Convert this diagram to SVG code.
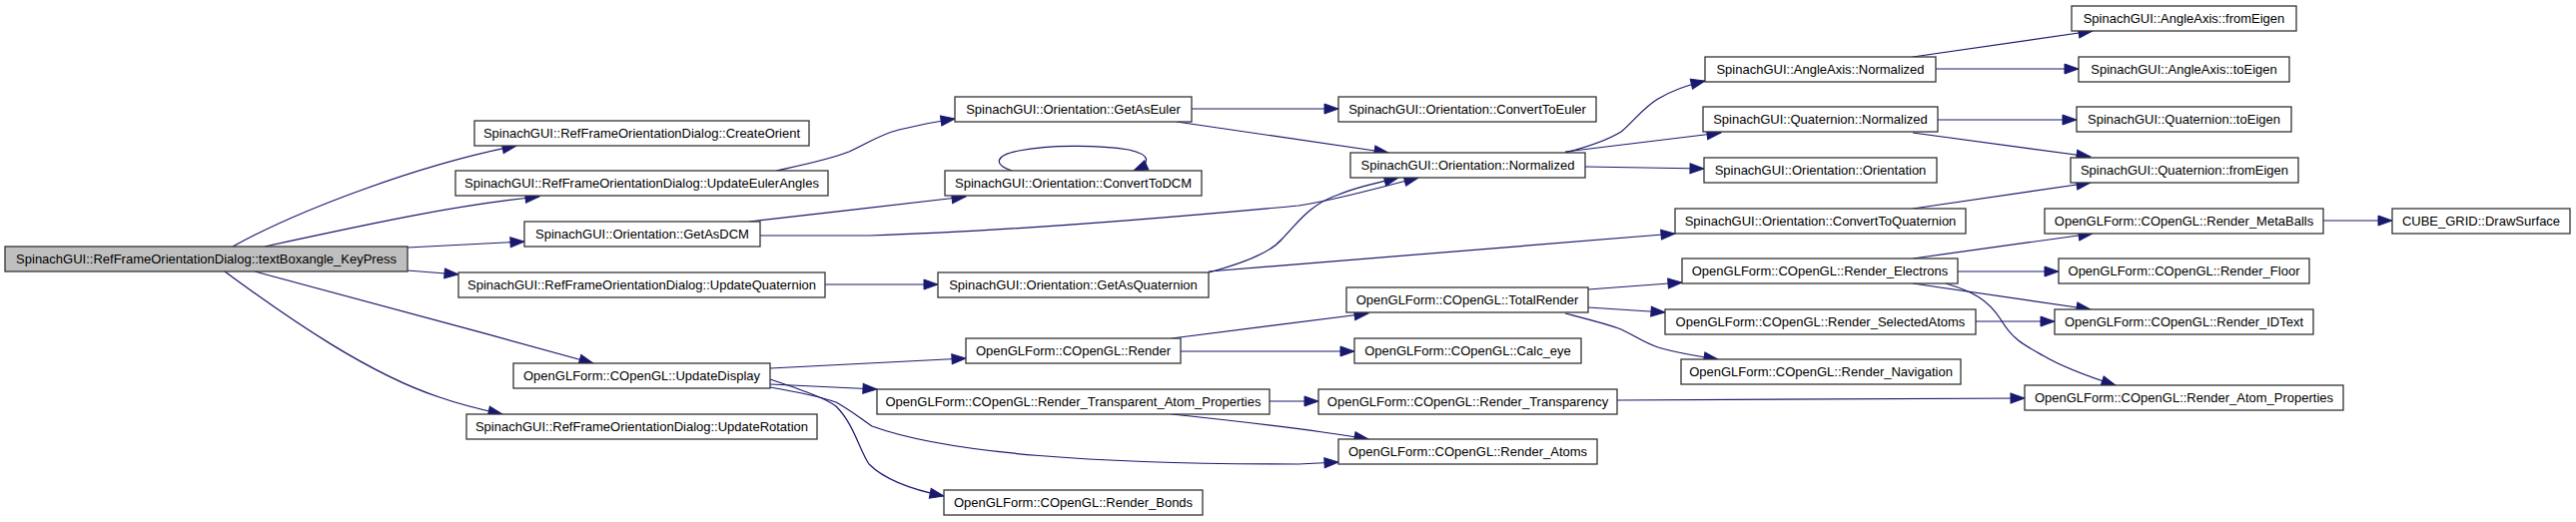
<svg xmlns="http://www.w3.org/2000/svg" width="2579" height="523" viewBox="0 0 2579 523">
<style>
.n rect{fill:#ffffff;stroke:#333333;stroke-width:1.3}
.n text{font-family:"Liberation Sans",Arial,sans-serif;font-size:13px;fill:#000000;text-anchor:middle}
#n0 rect{fill:#bfbfbf}
#edges path{fill:none;stroke:#191970;stroke-width:1.2;marker-end:url(#ah)}
</style>
<defs>
<marker id="ah" markerUnits="userSpaceOnUse" markerWidth="14" markerHeight="10" refX="14" refY="5" orient="auto" overflow="visible">
<path d="M0,0 L14,5 L0,10 z" fill="#191970" stroke="#191970" stroke-width="1"/>
</marker>
</defs>
<rect x="0" y="0" width="2579" height="523" fill="#ffffff"/>
<g id="edges">
<path d="M233,247 C300,210 420,165 517,146"/>
<path d="M265,247 C380,222 460,205 540,197"/>
<path d="M408,248 L525,242"/>
<path d="M408,271 L459,275"/>
<path d="M255,272 C350,298 480,332 594,364"/>
<path d="M225,272 C290,320 370,375 440,398 C460,405 480,410 503,415"/>
<path d="M777,171 C800,166 830,160 850,152 C870,143 880,135 900,130 C920,125 935,122 956,119"/>
<path d="M1193,109 L1340,109"/>
<path d="M1178,122 L1390,153"/>
<path d="M750,222 C820,214 900,205 967,197"/>
<path d="M761,236 L870,236 C1000,232 1150,220 1300,206 C1340,200 1380,188 1420,178"/>
<path d="M1013,171 C995,165 995,156 1020,151 C1050,145 1100,145 1130,150 C1152,155 1153,163 1135,171"/>
<path d="M826,285 L939,285"/>
<path d="M1210,273 C1240,265 1270,255 1283,240 C1298,225 1310,205 1340,195 C1360,187 1380,183 1400,178"/>
<path d="M1210,272 L1677,234"/>
<path d="M771,369 L967,359"/>
<path d="M771,385 L878,390"/>
<path d="M771,388 C800,393 820,397 837,403 C850,410 860,418 873,427 C950,455 1100,465 1300,465 L1340,463"/>
<path d="M771,380 C800,390 825,398 837,407 C855,425 860,450 870,465 C885,480 910,490 945,497"/>
<path d="M1173,339 L1370,314"/>
<path d="M1182,352 L1356,352"/>
<path d="M1271,402 L1320,402"/>
<path d="M1173,415 C1250,423 1310,430 1370,440"/>
<path d="M1619,401 L2027,399"/>
<path d="M1590,290 L1684,283"/>
<path d="M1590,308 L1667,313"/>
<path d="M1567,314 C1590,320 1610,325 1623,330 C1640,338 1645,343 1660,348 C1680,354 1700,357 1720,360"/>
<path d="M1915,259 L2095,234"/>
<path d="M1960,272 L2061,272"/>
<path d="M1915,284 L2093,310"/>
<path d="M1948,284 C1975,292 1990,300 2003,320 C2015,340 2025,345 2045,356 C2065,368 2090,377 2118,386"/>
<path d="M1978,322 L2057,322"/>
<path d="M2326,221 L2395,221"/>
<path d="M1567,153 C1590,147 1610,140 1623,132 C1635,122 1645,108 1660,99 C1675,90 1690,85 1707,81"/>
<path d="M1567,152 L1723,133"/>
<path d="M1587,167 L1706,169"/>
<path d="M1915,57 L2095,31"/>
<path d="M1938,69 L2081,69"/>
<path d="M1940,120 L2079,120"/>
<path d="M1915,133 L2093,157"/>
<path d="M1915,209 L2093,183"/>
</g>
<g id="n0" class="n"><rect x="5" y="247" width="403" height="25"/><text x="206.5" y="264">SpinachGUI::RefFrameOrientationDialog::textBoxangle_KeyPress</text></g>
<g id="n1" class="n"><rect x="475" y="121" width="335" height="25"/><text x="642.5" y="138">SpinachGUI::RefFrameOrientationDialog::CreateOrient</text></g>
<g id="n2" class="n"><rect x="456" y="171" width="373" height="25"/><text x="642.5" y="188">SpinachGUI::RefFrameOrientationDialog::UpdateEulerAngles</text></g>
<g id="n3" class="n"><rect x="525" y="222" width="236" height="25"/><text x="643" y="239">SpinachGUI::Orientation::GetAsDCM</text></g>
<g id="n4" class="n"><rect x="459" y="273" width="367" height="25"/><text x="642.5" y="290">SpinachGUI::RefFrameOrientationDialog::UpdateQuaternion</text></g>
<g id="n5" class="n"><rect x="514" y="364" width="257" height="25"/><text x="642.5" y="381">OpenGLForm::COpenGL::UpdateDisplay</text></g>
<g id="n6" class="n"><rect x="467" y="415" width="351" height="25"/><text x="642.5" y="432">SpinachGUI::RefFrameOrientationDialog::UpdateRotation</text></g>
<g id="n7" class="n"><rect x="956" y="97" width="237" height="25"/><text x="1074.5" y="114">SpinachGUI::Orientation::GetAsEuler</text></g>
<g id="n8" class="n"><rect x="946" y="171" width="257" height="25"/><text x="1074.5" y="188">SpinachGUI::Orientation::ConvertToDCM</text></g>
<g id="n9" class="n"><rect x="939" y="273" width="271" height="25"/><text x="1074.5" y="290">SpinachGUI::Orientation::GetAsQuaternion</text></g>
<g id="n10" class="n"><rect x="967" y="339" width="215" height="25"/><text x="1074.5" y="356">OpenGLForm::COpenGL::Render</text></g>
<g id="n11" class="n"><rect x="878" y="390" width="393" height="25"/><text x="1074.5" y="407">OpenGLForm::COpenGL::Render_Transparent_Atom_Properties</text></g>
<g id="n12" class="n"><rect x="945" y="491" width="259" height="25"/><text x="1074.5" y="508">OpenGLForm::COpenGL::Render_Bonds</text></g>
<g id="n13" class="n"><rect x="1340" y="97" width="258" height="25"/><text x="1469" y="114">SpinachGUI::Orientation::ConvertToEuler</text></g>
<g id="n14" class="n"><rect x="1352" y="153" width="235" height="25"/><text x="1469.5" y="170">SpinachGUI::Orientation::Normalized</text></g>
<g id="n15" class="n"><rect x="1348" y="288" width="242" height="25"/><text x="1469" y="305">OpenGLForm::COpenGL::TotalRender</text></g>
<g id="n16" class="n"><rect x="1356" y="339" width="227" height="25"/><text x="1469.5" y="356">OpenGLForm::COpenGL::Calc_eye</text></g>
<g id="n17" class="n"><rect x="1320" y="390" width="299" height="25"/><text x="1469.5" y="407">OpenGLForm::COpenGL::Render_Transparency</text></g>
<g id="n18" class="n"><rect x="1340" y="440" width="259" height="25"/><text x="1469.5" y="457">OpenGLForm::COpenGL::Render_Atoms</text></g>
<g id="n19" class="n"><rect x="1707" y="57" width="231" height="25"/><text x="1822.5" y="74">SpinachGUI::AngleAxis::Normalized</text></g>
<g id="n20" class="n"><rect x="1705" y="107" width="235" height="25"/><text x="1822.5" y="124">SpinachGUI::Quaternion::Normalized</text></g>
<g id="n21" class="n"><rect x="1706" y="158" width="233" height="25"/><text x="1822.5" y="175">SpinachGUI::Orientation::Orientation</text></g>
<g id="n22" class="n"><rect x="1677" y="209" width="291" height="25"/><text x="1822.5" y="226">SpinachGUI::Orientation::ConvertToQuaternion</text></g>
<g id="n23" class="n"><rect x="1684" y="259" width="276" height="25"/><text x="1822" y="276">OpenGLForm::COpenGL::Render_Electrons</text></g>
<g id="n24" class="n"><rect x="1667" y="310" width="311" height="25"/><text x="1822.5" y="327">OpenGLForm::COpenGL::Render_SelectedAtoms</text></g>
<g id="n25" class="n"><rect x="1683" y="360" width="280" height="25"/><text x="1823" y="377">OpenGLForm::COpenGL::Render_Navigation</text></g>
<g id="n26" class="n"><rect x="2074" y="6" width="225" height="25"/><text x="2186.5" y="23">SpinachGUI::AngleAxis::fromEigen</text></g>
<g id="n27" class="n"><rect x="2081" y="57" width="211" height="25"/><text x="2186.5" y="74">SpinachGUI::AngleAxis::toEigen</text></g>
<g id="n28" class="n"><rect x="2079" y="107" width="215" height="25"/><text x="2186.5" y="124">SpinachGUI::Quaternion::toEigen</text></g>
<g id="n29" class="n"><rect x="2073" y="158" width="228" height="25"/><text x="2187" y="175">SpinachGUI::Quaternion::fromEigen</text></g>
<g id="n30" class="n"><rect x="2047" y="209" width="279" height="25"/><text x="2186.5" y="226">OpenGLForm::COpenGL::Render_MetaBalls</text></g>
<g id="n31" class="n"><rect x="2061" y="259" width="251" height="25"/><text x="2186.5" y="276">OpenGLForm::COpenGL::Render_Floor</text></g>
<g id="n32" class="n"><rect x="2057" y="310" width="259" height="25"/><text x="2186.5" y="327">OpenGLForm::COpenGL::Render_IDText</text></g>
<g id="n33" class="n"><rect x="2027" y="386" width="319" height="25"/><text x="2186.5" y="403">OpenGLForm::COpenGL::Render_Atom_Properties</text></g>
<g id="n34" class="n"><rect x="2395" y="209" width="178" height="25"/><text x="2484" y="226">CUBE_GRID::DrawSurface</text></g>
</svg>
